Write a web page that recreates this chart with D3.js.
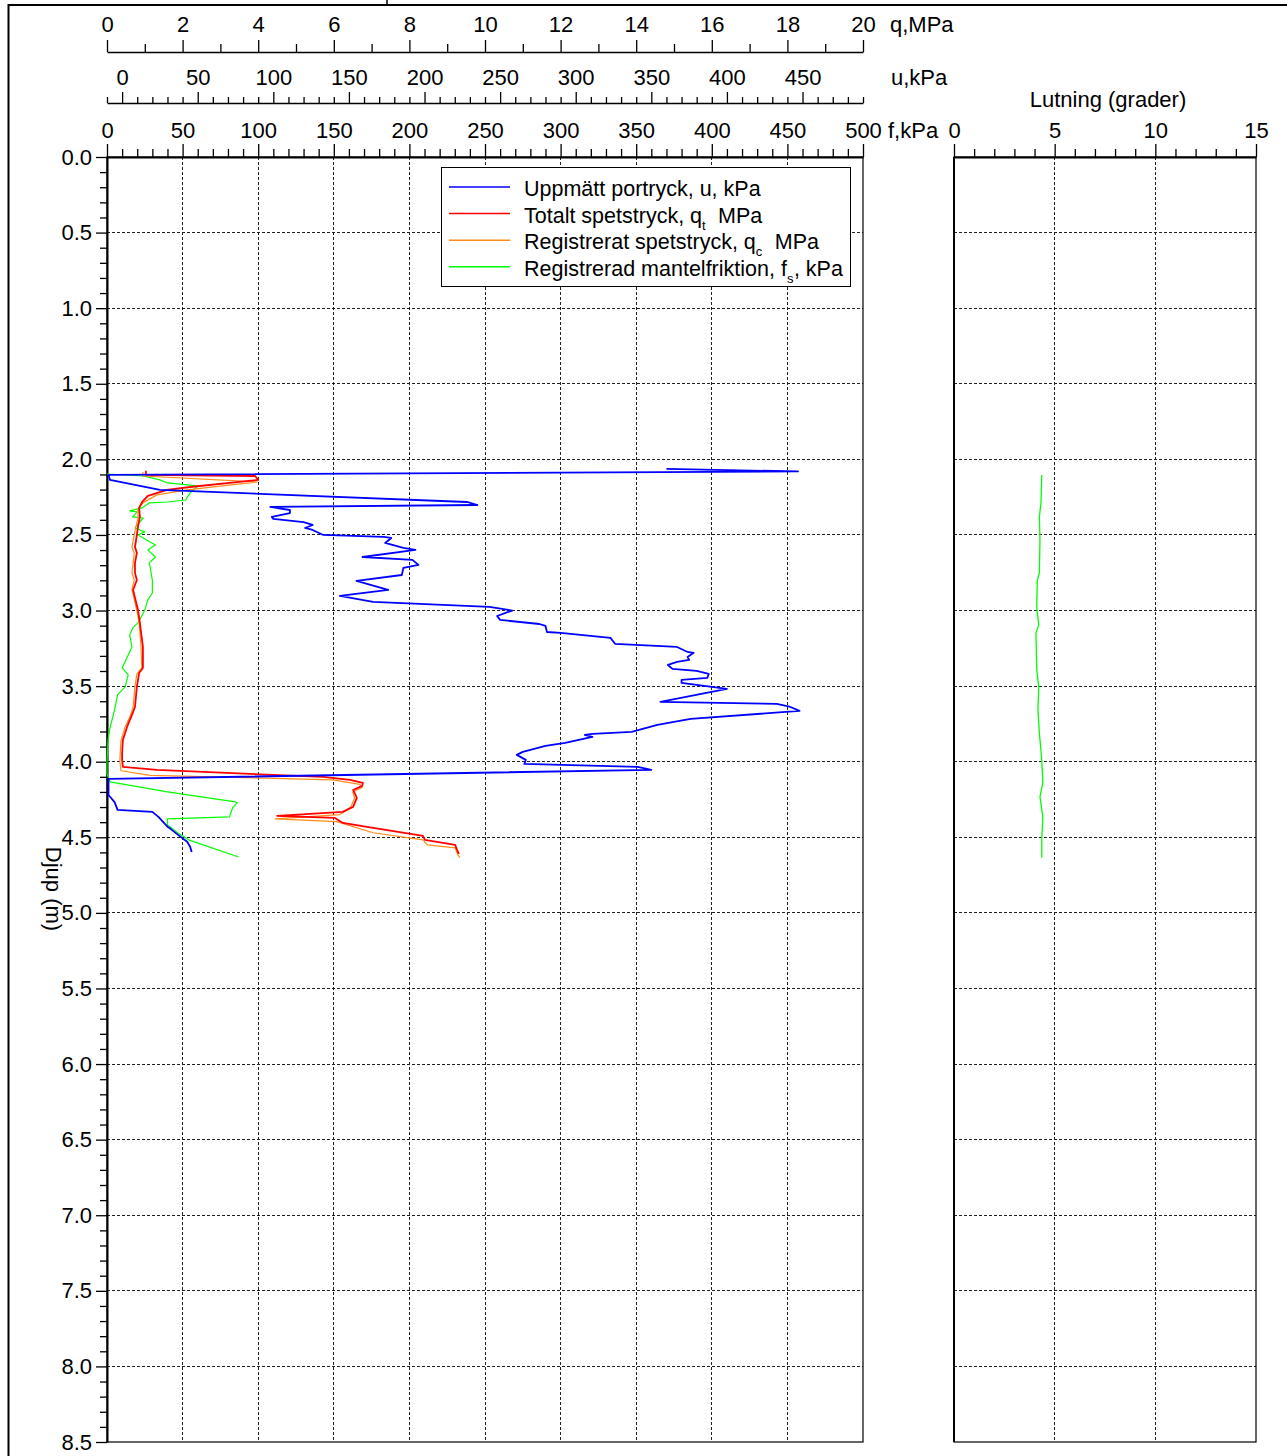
<!DOCTYPE html>
<html>
<head>
<meta charset="utf-8">
<script src="https://cdn.jsdelivr.net/npm/d3@7"></script>
<style>
  body { margin: 0; background: #fff; }
  svg { display: block; }
</style>
</head>
<body>
<script>
// Tick values
const qMajor = d3.range(0, 21, 2);
const qMinor = d3.range(1, 20, 2);
const uMajor = d3.range(0, 451, 50);
const uMinor = d3.range(-10, 491, 10).filter((v) => v % 50 !== 0);
const fMajor = d3.range(0, 501, 50);
const fMinor = d3.range(0, 501, 10).filter((v) => v % 50 !== 0);
const lutMajor = [0, 5, 10, 15];
const lutMinor = d3.range(0, 16).filter((v) => v % 5 !== 0);
const depthMajor = d3.range(0, 18).map((i) => i / 2);
const depthMinor = d3.range(0, 86).filter((i) => i % 5 !== 0).map((i) => i / 10);

// Series: [depth (m), value]
const uSeries = [
  [2.063, 360], [2.080, 447], [2.103, -9], [2.136, -8], [2.202, 25], [2.282, 228],
  [2.302, 235], [2.315, 98], [2.335, 111], [2.355, 111], [2.381, 99], [2.394, 100],
  [2.415, 120], [2.434, 126], [2.454, 121], [2.467, 126], [2.500, 133], [2.513, 173],
  [2.520, 178], [2.553, 174], [2.586, 186], [2.599, 194], [2.646, 159], [2.665, 192],
  [2.698, 196], [2.718, 186], [2.765, 185], [2.804, 155], [2.864, 176], [2.903, 144],
  [2.943, 166], [2.976, 243], [3.000, 258], [3.036, 248], [3.062, 250], [3.089, 276],
  [3.102, 280], [3.142, 281], [3.148, 290], [3.181, 323], [3.207, 325], [3.220, 326],
  [3.241, 367], [3.274, 374], [3.280, 378], [3.307, 374], [3.327, 375], [3.340, 367],
  [3.360, 361], [3.386, 364], [3.399, 380], [3.419, 388], [3.446, 387], [3.459, 370],
  [3.479, 370], [3.505, 390], [3.518, 400], [3.604, 356], [3.618, 433], [3.638, 442],
  [3.664, 448], [3.717, 376], [3.757, 354], [3.803, 337], [3.816, 311], [3.823, 306],
  [3.836, 311], [3.876, 293], [3.896, 280], [3.935, 265], [3.955, 261], [3.988, 267],
  [4.015, 266], [4.034, 341], [4.054, 350], [4.114, -9], [4.220, -9], [4.267, -5],
  [4.319, -3], [4.332, 20], [4.365, 24], [4.430, 30], [4.444, 32], [4.484, 37],
  [4.530, 43], [4.563, 45], [4.597, 46],
];

const qtSeries = [
  [2.075, 1.03], [2.103, 1.03], [2.110, 3.92], [2.136, 4.0], [2.183, 2.2], [2.202, 1.59],
  [2.242, 1.08], [2.282, 0.93], [2.321, 0.85], [2.381, 0.87], [2.447, 0.82], [2.5, 0.79],
  [2.579, 0.74], [2.619, 0.79], [2.685, 0.74], [2.751, 0.74], [2.798, 0.79], [2.864, 0.69],
  [2.996, 0.82], [3.082, 0.87], [3.241, 0.95], [3.38, 0.95], [3.413, 0.85], [3.505, 0.79],
  [3.638, 0.74], [3.69, 0.66], [3.77, 0.53], [3.856, 0.42], [3.942, 0.4], [3.988, 0.4],
  [4.034, 0.42], [4.054, 1.32], [4.101, 5.71], [4.12, 6.43], [4.14, 6.77], [4.16, 6.75],
  [4.187, 6.51], [4.239, 6.61], [4.299, 6.51], [4.332, 6.24], [4.358, 4.5], [4.372, 6.03],
  [4.405, 6.24], [4.431, 6.88], [4.491, 8.36], [4.517, 8.41], [4.55, 9.21], [4.583, 9.26],
  [4.61, 9.31],
];

const qcSeries = [
  [2.083, 0.95], [2.110, 0.95], [2.150, 3.97], [2.202, 2.12], [2.235, 1.32], [2.288, 0.95],
  [2.33, 0.82], [2.39, 0.82], [2.45, 0.76], [2.5, 0.72], [2.58, 0.66], [2.62, 0.72],
  [2.69, 0.69], [2.75, 0.66], [2.8, 0.72], [2.86, 0.66], [3.0, 0.79], [3.08, 0.85],
  [3.24, 0.9], [3.38, 0.92], [3.42, 0.79], [3.5, 0.74], [3.64, 0.69], [3.7, 0.61],
  [3.77, 0.48], [3.86, 0.37], [3.94, 0.35], [4.0, 0.34], [4.06, 0.37], [4.09, 1.14],
  [4.12, 5.98], [4.15, 6.69], [4.17, 6.75], [4.2, 6.5], [4.24, 6.55], [4.3, 6.45],
  [4.35, 6.16], [4.378, 4.45], [4.396, 6.08], [4.47, 7.04], [4.517, 8.36], [4.55, 8.47],
  [4.57, 9.21], [4.62, 9.29], [4.635, 9.34],
];

const fsSeries = [
  [2.097, 0], [2.110, 24], [2.136, 35], [2.156, 40], [2.176, 60], [2.222, 55],
  [2.269, 52], [2.282, 40], [2.288, 28], [2.321, 23], [2.341, 15], [2.348, 20],
  [2.381, 17], [2.388, 24], [2.434, 20], [2.454, 18.5], [2.48, 25], [2.5, 20.5],
  [2.566, 32], [2.599, 27], [2.646, 32], [2.685, 28], [2.798, 30], [2.884, 30],
  [2.93, 27], [2.996, 25], [3.082, 20.5], [3.115, 17], [3.161, 15], [3.241, 16.5],
  [3.38, 10], [3.426, 14], [3.505, 12], [3.558, 7], [3.657, 5], [3.776, 2],
  [3.856, 0.7], [4.008, 0], [4.08, 0], [4.134, 2], [4.2, 40], [4.266, 85],
  [4.272, 86], [4.306, 83], [4.365, 81], [4.378, 40], [4.418, 40], [4.471, 47],
  [4.517, 54], [4.63, 87],
];

const lutSeries = [
  [2.103, 4.36], [2.2, 4.34], [2.288, 4.32], [2.38, 4.24], [2.53, 4.27], [2.75, 4.24],
  [2.8, 4.14], [2.976, 4.11], [3.095, 4.21], [3.148, 4.07], [3.393, 4.11], [3.505, 4.21],
  [3.657, 4.17], [3.81, 4.24], [3.988, 4.36], [4.14, 4.41], [4.233, 4.27], [4.365, 4.41],
  [4.517, 4.36], [4.636, 4.36],
];

const FONT = "Arial, 'Liberation Sans', sans-serif";
const W = 1287, H = 1456;

const svg = d3.select("body").append("svg")
  .attr("width", W).attr("height", H)
  .attr("font-family", FONT);

// Scales
const y = d3.scaleLinear().domain([0, 8.5]).range([157, 1442]);
const xQ = d3.scaleLinear().domain([0, 20]).range([107, 863]);
const xU = d3.scaleLinear().domain([-10, 490]).range([107, 863]);
const xF = d3.scaleLinear().domain([0, 500]).range([107, 863]);
const xL = d3.scaleLinear().domain([0, 15]).range([954, 1256]);

// Page frame
svg.append("line").attr("x1", 8).attr("x2", W).attr("y1", 5).attr("y2", 5)
  .attr("stroke", "#000").attr("stroke-width", 2);
svg.append("line").attr("x1", 8.5).attr("x2", 8.5).attr("y1", 4).attr("y2", H)
  .attr("stroke", "#000").attr("stroke-width", 2);
svg.append("line").attr("x1", 387).attr("x2", 387).attr("y1", 0).attr("y2", 5)
  .attr("stroke", "#000").attr("stroke-width", 1.5);

// Grid
const grid = svg.append("g")
  .attr("stroke", "#222").attr("stroke-width", 1).attr("stroke-dasharray", "3,2")
  .attr("shape-rendering", "crispEdges");

grid.selectAll(".vg").data(fMajor.slice(1, -1)).enter().append("line")
  .attr("x1", (d) => xF(d)).attr("x2", (d) => xF(d))
  .attr("y1", y(0)).attr("y2", y(8.5));

grid.selectAll(".vl").data([5, 10]).enter().append("line")
  .attr("x1", (d) => xL(d)).attr("x2", (d) => xL(d))
  .attr("y1", y(0)).attr("y2", y(8.5));

const hLines = depthMajor.slice(1, -1);
grid.selectAll(".hg").data(hLines).enter().append("line")
  .attr("x1", 107).attr("x2", 863)
  .attr("y1", (d) => y(d)).attr("y2", (d) => y(d));
grid.selectAll(".hl").data(hLines).enter().append("line")
  .attr("x1", 954).attr("x2", 1256)
  .attr("y1", (d) => y(d)).attr("y2", (d) => y(d));

// Plot frames
svg.append("rect").attr("x", 107).attr("y", y(0)).attr("width", 756).attr("height", y(8.5) - y(0))
  .attr("fill", "none").attr("stroke", "#000").attr("stroke-width", 1.2);
svg.append("rect").attr("x", 954).attr("y", y(0)).attr("width", 302).attr("height", y(8.5) - y(0))
  .attr("fill", "none").attr("stroke", "#000").attr("stroke-width", 1.2);
svg.append("line").attr("x1", 954).attr("x2", 954).attr("y1", y(0)).attr("y2", y(8.5))
  .attr("stroke", "#000").attr("stroke-width", 2);

// Axis helpers
function styleAxis(g, domainWidth) {
  g.attr("font-family", FONT).attr("font-size", 22);
  g.select(".domain").attr("stroke-width", domainWidth);
  g.selectAll(".tick line").attr("stroke-width", 1.3);
}

function topAxis(scale, major, minor, yPos, majSize, minSize, pad, domainWidth) {
  const gMin = svg.append("g").attr("transform", `translate(0,${yPos})`)
    .call(d3.axisTop(scale).tickValues(minor).tickSize(minSize).tickFormat("").tickSizeOuter(0));
  styleAxis(gMin, domainWidth);
  const gMaj = svg.append("g").attr("transform", `translate(0,${yPos})`)
    .call(d3.axisTop(scale).tickValues(major).tickSize(majSize).tickPadding(pad)
      .tickFormat(d3.format("d")).tickSizeOuter(0));
  styleAxis(gMaj, domainWidth);
  gMaj.select(".domain").remove();
}

topAxis(xQ, qMajor, qMinor, 52, 12, 8, 8.5, 1.5);
topAxis(xU, uMajor, uMinor, 103, 11, 6, 7, 1.5);
topAxis(xF, fMajor, fMinor, 157, 13, 8, 6, 2);
topAxis(xL, lutMajor, lutMinor, 157, 13, 8, 6, 2);

// Depth axis
const gyMin = svg.append("g").attr("transform", "translate(107,0)")
  .call(d3.axisLeft(y).tickValues(depthMinor).tickSize(7).tickFormat("").tickSizeOuter(0));
styleAxis(gyMin, 2);
const gyMaj = svg.append("g").attr("transform", "translate(107,0)")
  .call(d3.axisLeft(y).tickValues(depthMajor).tickSize(11).tickPadding(4)
    .tickFormat(d3.format(".1f")).tickSizeOuter(0));
styleAxis(gyMaj, 2);
gyMaj.select(".domain").remove();

// Axis titles
const titles = svg.append("g").attr("font-size", 22).attr("fill", "#000");
titles.append("text").attr("x", 890).attr("y", 31.5).text("q,MPa");
titles.append("text").attr("x", 891).attr("y", 85).text("u,kPa");
titles.append("text").attr("x", 888).attr("y", 138).text("f,kPa");
titles.append("text").attr("x", 1108).attr("y", 107).attr("text-anchor", "middle").text("Lutning (grader)");
titles.append("text").attr("transform", "translate(46,889) rotate(90)")
  .attr("text-anchor", "middle").text("Djup (m)");

// Curves
const line = (xs) => d3.line().x((d) => xs(d[1])).y((d) => y(d[0]));

const curves = [
  { data: fsSeries, x: xF, color: "#00ff00", w: 1.2 },
  { data: qcSeries, x: xQ, color: "#ff8c1a", w: 1.2 },
  { data: qtSeries, x: xQ, color: "#ff0000", w: 1.8 },
  { data: uSeries, x: xU, color: "#0000ff", w: 1.8 },
  { data: lutSeries, x: xL, color: "#00ff00", w: 1.3 },
];

svg.selectAll(".curve").data(curves).enter().append("path")
  .attr("class", "curve")
  .attr("d", (c) => line(c.x)(c.data))
  .attr("fill", "none")
  .attr("stroke", (c) => c.color)
  .attr("stroke-width", (c) => c.w)
  .attr("stroke-linejoin", "round");

// Legend (text pieces laid out one after another so subscripts sit apart)
const legendItems = [
  { color: "#0000ff", parts: [["Uppmätt portryck, u, kPa"]] },
  { color: "#ff0000", parts: [["Totalt spetstryck, q"], ["t", "sub"], ["\u00a0\u00a0MPa"]] },
  { color: "#ff8c1a", parts: [["Registrerat spetstryck, q"], ["c", "sub"], ["\u00a0\u00a0MPa"]] },
  { color: "#00ff00", parts: [["Registrerad mantelfriktion, f"], ["s", "sub"], [", kPa"]] },
];

const leg = svg.append("g");
leg.append("rect").attr("x", 441.5).attr("y", 167.5).attr("width", 409).attr("height", 119)
  .attr("fill", "#fff").attr("stroke", "#000").attr("stroke-width", 1);

const legRow = leg.selectAll(".row").data(legendItems).enter().append("g")
  .attr("transform", (d, i) => `translate(0,${187 + i * 26.6})`);
legRow.append("line").attr("x1", 449).attr("x2", 510)
  .attr("stroke", (d) => d.color).attr("stroke-width", 1.5);
legRow.each(function (d) {
  const row = d3.select(this);
  let x = 524;
  d.parts.forEach((p) => {
    const sub = p[1] === "sub";
    const t = row.append("text")
      .attr("x", x)
      .attr("y", sub ? 16 : 9)
      .attr("font-size", sub ? 13 : 21.5)
      .text(p[0]);
    x += t.node().getComputedTextLength() + (sub ? 0.5 : 0);
  });
});
</script>
</body>
</html>
